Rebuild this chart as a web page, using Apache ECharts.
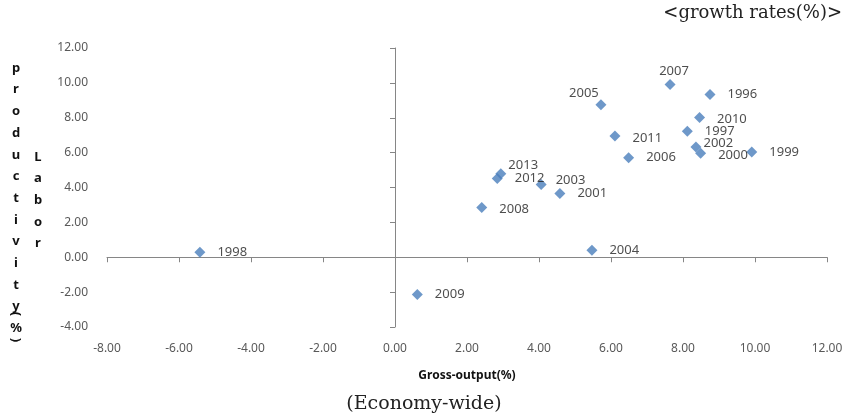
<!DOCTYPE html>
<html>
<head>
<meta charset="utf-8">
<style>
  html, body { margin: 0; padding: 0; background: #ffffff; }
  #chart { width: 849px; height: 420px; }
</style>
<script src="https://cdn.jsdelivr.net/npm/echarts@6/dist/echarts.min.js"></script>
</head>
<body>
<div id="chart"></div>
<script>
// Growth rates by year: gross output (x) vs labor productivity (y), in %
const years = ['1996', '1997', '1998', '1999', '2000', '2001', '2002', '2003', '2004',
               '2005', '2006', '2007', '2008', '2009', '2010', '2011', '2012', '2013'];
const grossOutput = [8.75, 8.12, -5.42, 9.91, 8.49, 4.58, 8.36, 4.06, 5.47,
                     5.72, 6.49, 7.64, 2.41, 0.62, 8.46, 6.11, 2.84, 2.94];
const laborProductivity = [9.34, 7.22, 0.29, 6.04, 5.96, 3.65, 6.32, 4.17, 0.40,
                           8.75, 5.71, 9.90, 2.85, -2.14, 8.02, 6.95, 4.51, 4.79];

const xRange = { min: -8, max: 12, interval: 2 };
const yRange = { min: -4, max: 12, interval: 2 };

// Per-year label placement tweaks so crowded labels don't collide
const labelTweaks = {
  '2005': { position: 'top', distance: 0, offset: [-17, 1] },
  '2007': { position: 'top', distance: 0, offset: [4, -1] },
  '2002': { offset: [-10, -4] },
  '2013': { offset: [-10, -8] },
  '2003': { offset: [-3, -4] },
  '2000': { offset: [0, 2] },
  '2008': { offset: [0, 2] },
  '2010': { offset: [0, 2] },
  '2011': { offset: [0, 2] }
};

const points = years.map((y, i) => {
  const item = { name: y, value: [grossOutput[i], laborProductivity[i]] };
  if (labelTweaks[y]) item.label = labelTweaks[y];
  return item;
});

const AXIS_GREY = '#868686';
const TICK_TEXT = '#595959';
const SANS = '"Noto Sans", "DejaVu Sans", sans-serif';
const SERIF = '"DejaVu Serif", "Liberation Serif", serif';
const TITLE_FONT = 'bold 13px ' + SANS;

const glyph = (ch, x, y, rotation) => ({
  type: 'group', x: x, y: y, rotation: rotation || 0,
  children: [{
    type: 'text', x: 0, y: 0,
    style: { text: ch, fill: '#111', font: TITLE_FONT, textAlign: 'center', textVerticalAlign: 'middle' }
  }]
});

// Stacked vertical axis title, one glyph per line
const titleGlyphs = [];
const stackChars = (str, x, y0, step) => {
  str.split('').forEach((ch, k) => titleGlyphs.push(glyph(ch, x, y0 + k * step)));
};
stackChars('productivity', 16, 68, 21.7);
stackChars('Labor', 38, 157, 21.6);
// unit in vertical layout: brackets turned a quarter clockwise, percent upright
titleGlyphs.push(glyph('(', 16, 314, -Math.PI / 2));
titleGlyphs.push(glyph('%', 16, 328));
titleGlyphs.push(glyph(')', 16, 340, -Math.PI / 2));

const chart = echarts.init(document.getElementById('chart'), null, { renderer: 'canvas' });

chart.setOption({
  animation: false,
  backgroundColor: '#ffffff',
  grid: { left: 107, right: 22, top: 48, bottom: 93 },
  xAxis: [
    {
      // tick labels along the bottom edge
      type: 'value', position: 'bottom', ...xRange,
      axisLine: { show: false, onZero: false },
      axisTick: { show: false },
      splitLine: { show: false },
      axisLabel: { formatter: v => v.toFixed(2), color: TICK_TEXT, fontSize: 12, fontFamily: SANS, margin: 16 }
    },
    {
      // crossing line through y = 0
      type: 'value', position: 'bottom', ...xRange,
      axisLine: { show: true, onZero: true, onZeroAxisIndex: 0, lineStyle: { color: AXIS_GREY, width: 1 } },
      axisTick: { show: true, inside: false, length: 5, lineStyle: { color: AXIS_GREY } },
      splitLine: { show: false },
      axisLabel: { show: false }
    }
  ],
  yAxis: [
    {
      type: 'value', position: 'left', ...yRange,
      axisLine: { show: false, onZero: false },
      axisTick: { show: false },
      splitLine: { show: false },
      axisLabel: { formatter: v => v.toFixed(2), color: TICK_TEXT, fontSize: 12, fontFamily: SANS, margin: 19 }
    },
    {
      // crossing line through x = 0
      type: 'value', position: 'left', ...yRange,
      axisLine: { show: true, onZero: true, onZeroAxisIndex: 0, lineStyle: { color: AXIS_GREY, width: 1 } },
      axisTick: { show: true, inside: false, length: 5, lineStyle: { color: AXIS_GREY } },
      splitLine: { show: false },
      axisLabel: { show: false }
    }
  ],
  series: [
    {
      type: 'scatter',
      xAxisIndex: 0,
      yAxisIndex: 0,
      symbol: 'diamond',
      symbolSize: 11,
      itemStyle: { color: '#4A7EBB' },
      label: {
        show: true,
        position: 'right',
        distance: 12,
        formatter: p => p.name,
        color: '#222222',
        fontSize: 13,
        fontFamily: SANS
      },
      data: points
    }
  ],
  graphic: [
    ...titleGlyphs,
    {
      type: 'text', x: 467, y: 376,
      style: { text: 'Gross-output(%)', fill: '#111', font: 'bold 12px ' + SANS, textAlign: 'center', textVerticalAlign: 'middle' }
    },
    {
      type: 'text', x: 424, y: 404,
      style: { text: '(Economy-wide)', fill: '#222', font: '19px ' + SERIF, textAlign: 'center', textVerticalAlign: 'middle' }
    },
    {
      type: 'text', x: 842, y: 13,
      style: { text: '<growth rates(%)>', fill: '#222', font: '18px ' + SERIF, textAlign: 'right', textVerticalAlign: 'middle' }
    }
  ]
});
</script>
</body>
</html>
